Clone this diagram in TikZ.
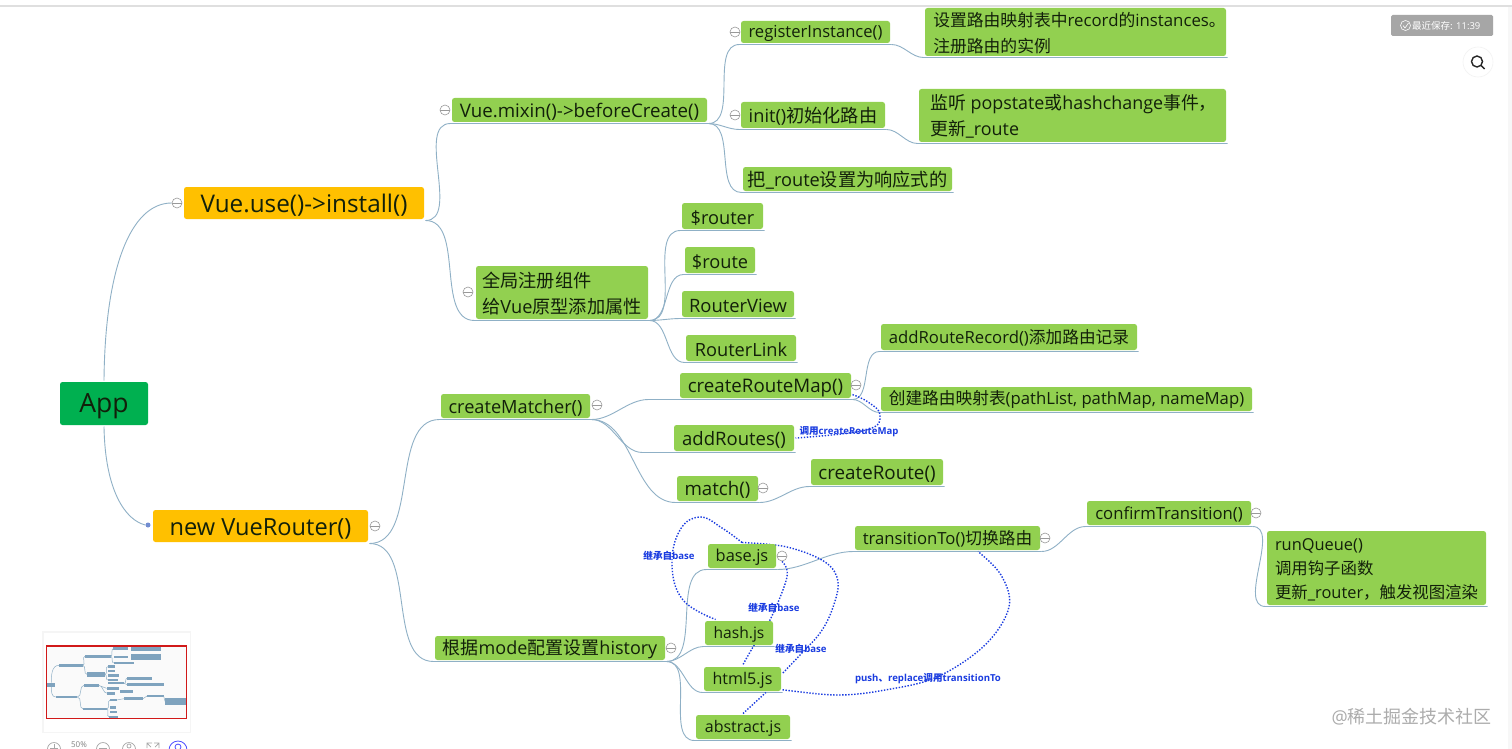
\documentclass[tikz,border=0pt]{standalone}
\usepackage{fontspec}
\setmainfont{Open Sans}
\newfontfamily\cjk{Noto Sans CJK SC}
\usetikzlibrary{backgrounds,calc}
\definecolor{gr}{HTML}{92D050}
\definecolor{ap}{HTML}{00B050}
\definecolor{og}{HTML}{FFC000}
\definecolor{brc}{HTML}{8FB0C6}
\definecolor{dotb}{HTML}{1A3CE0}
\definecolor{mbar}{HTML}{7FA3BE}
\definecolor{txt}{HTML}{12200A}
\tikzset{
  x=1pt,y=-1pt,
  gbox/.style={fill=gr,rounded corners=2.5pt,inner sep=0pt,outer sep=1.5pt,text=txt,align=left,font=\fontsize{18.2}{26.5}\selectfont},
  fs/.style={font=\fontsize{#1}{26.5}\selectfont},
  obox/.style={gbox,fill=og},
  abox/.style={gbox,fill=ap},
  branch/.style={draw=brc,line width=.9pt},
  ficon/.style={circle,draw=gray!80,fill=white,line width=.6pt,minimum size=10pt,inner sep=0pt,
    path picture={\draw[gray!80,line width=.6pt] (path picture bounding box.west) -- (path picture bounding box.east);}},
  link/.style={draw=dotb,line width=1.4pt,dash pattern=on 1.4pt off 1.6pt},
  linklab/.style={text=dotb,inner sep=0pt,font=\fontsize{9.6}{11}\selectfont\bfseries},
  mb/.style={fill=mbar,draw=none},
  tool/.style={draw=gray!70,line width=.7pt,fill=white},
}
\newcommand{\gn}[7][gbox]{\node[gbox,#1,minimum width={(#5-#3)*1pt},minimum height={(#6-#4)*1pt}] (#2) at ({(#3+#5)/2},{(#4+#6)/2}) {\rule{0pt}{.95em}#7};}
\newcommand{\ic}[3]{\node[ficon] (#1) at (#2,#3) {};}
\newcommand{\br}[3][0]{\draw[branch] (#2.south east) to[out=0,in=180,looseness=.9] ([xshift=#1 pt]#3.south west) -- (#3.south east);}
\newcommand{\mr}[4]{\fill[mb] (#1,#2) rectangle (#3,#4);}
\begin{document}
\begin{tikzpicture}
\useasboundingbox (0,0) rectangle (1512,749);
% nodes
\gn[abox,fs=26.5]{app}{60}{382}{148}{425}{App}
\gn[obox,fs=24.3]{use}{184}{187}{424}{219}{Vue.use()->install()}
\gn[obox,fs=23.6]{nvr}{153}{510}{368}{542}{new VueRouter()}
\gn[fs=18.7]{mix}{452}{98}{707}{122}{Vue.mixin()->beforeCreate()}
\gn{glob}{476}{266}{648}{319}{{\cjk 全局注册组件}\\{\cjk 给}Vue{\cjk 原型添加属性}}
\gn{cm}{441}{394}{590}{418}{createMatcher()}
\gn[fs=18]{hist}{435}{636}{665}{660}{{\cjk 根据}mode{\cjk 配置设置}history}
\gn[fs=16.6]{reg}{741}{21}{890}{43}{registerInstance()}
\gn{init}{741}{102}{885}{128}{init(){\cjk 初始化路由}}
\gn{rsp}{743}{167}{952}{191}{{\cjk 把}\_route{\cjk 设置为响应式的}}
\gn[fs=16.8]{regt}{925}{8}{1226}{56}{\hspace*{8pt}{\cjk 设置路由映射表中}record{\cjk 的}instances{\cjk 。}\\\hspace*{8pt}{\cjk 注册路由的实例}}
\gn[fs=17.9]{lis}{919}{89}{1226}{142}{\hspace*{8pt}{\cjk 监听} popstate{\cjk 或}hashchange{\cjk 事件，}\hspace*{6pt}\\\hspace*{8pt}{\cjk 更新}\_route}
\gn{rtr}{682}{203}{763}{229}{\$router}
\gn{rte}{685}{247}{755}{273}{\$route}
\gn[fs=18.4]{rv}{682}{291}{794}{317}{RouterView}
\gn{rl}{686}{335}{796}{361}{RouterLink}
\gn[fs=18.7]{crm}{680}{373}{851}{398}{createRouteMap()}
\gn[fs=18.5]{adr}{674}{425}{794}{451}{addRoutes()}
\gn[fs=18.7]{mat}{677}{476}{758}{501}{match()}
\gn[fs=16.7]{arr}{881}{324}{1137}{350}{addRouteRecord(){\cjk 添加路由记录}}
\gn[fs=16.7]{cmap}{881}{387}{1252}{411}{{\cjk 创建路由映射表}(pathList, pathMap, nameMap)}
\gn[fs=18.8]{crt}{811}{459}{943}{485}{createRoute()}
\gn[fs=16.4]{base}{708}{544}{776}{568}{base.js}
\gn[fs=15.6]{hash}{705}{621}{773}{645}{hash.js}
\gn[fs=16.1]{html}{704}{667}{781}{691}{html5.js}
\gn[fs=16]{abs}{696}{715}{790}{739}{abstract.js}
\gn[fs=16.7]{trans}{855}{526}{1040}{550}{transitionTo(){\cjk 切换路由}}
\gn[fs=16.7]{conf}{1087}{501}{1251}{525}{confirmTransition()}
\gn[font=\fontsize{16.4}{24}\selectfont]{runq}{1267}{531}{1486}{605}{runQueue()\\{\cjk 调用钩子函数}\\{\cjk 更新}\_router{\cjk ，触发视图渲染}}
% collapse icons
\ic{i1}{177}{203}\ic{i2}{375}{526}\ic{i3}{445}{110}\ic{i4}{468}{292}\ic{i5}{597}{405}
\ic{i6}{735}{32}\ic{i7}{735}{115}\ic{i8}{763}{488}\ic{i9}{782}{556}\ic{i10}{856}{385}
\ic{i11}{671}{648}\ic{i12}{1045}{538}\ic{i13}{1256}{513}
\node[circle,fill=brc!80!blue,inner sep=0pt,minimum size=5pt] (dot1) at (148,525) {};
% link labels
\node[linklab] (l1) at (669,556) {{\cjk 继承自}base};
\node[linklab] (l2) at (774,608) {{\cjk 继承自}base};
\node[linklab] (l3) at (801,649) {{\cjk 继承自}base};
\node[linklab] (l4) at (928,679) {push{\cjk 、}replace{\cjk 调用}transitionTo};
\node[linklab] (l5) at (849,432) {{\cjk 调用}createRouteMap};
\begin{scope}[on background layer]
\fill[white] (0,0) rectangle (1512,749);
\fill[gray!25] (0,5.5) rectangle (1512,7);
\fill[gray!6] (1508,7) rectangle (1512,749);
% branches
\draw[branch] (app.north) .. controls (105,270) and (130,203) .. (i1.west);
\draw[branch] (app.south) .. controls (105,490) and (125,520) .. (dot1.west);
\br{use}{mix}\br{use}{glob}
\br{nvr}{cm}\br{nvr}{hist}
\br{mix}{reg}\br{mix}{init}\br{mix}{rsp}
\br{reg}{regt}\br{init}{lis}
\br{glob}{rtr}\br{glob}{rte}\br{glob}{rv}\br{glob}{rl}
\br[-30]{cm}{crm}\br[-30]{cm}{adr}\br{cm}{mat}
\br{crm}{arr}\br{crm}{cmap}\br{mat}{crt}
\br{hist}{base}\br{hist}{hash}\br{hist}{html}\br{hist}{abs}
\br{base}{trans}\br{trans}{conf}\br{conf}{runq}
% dotted links
\draw[link] plot[smooth,tension=.7] coordinates {(crm.-6) (868,402) (880,415) (866,430) (adr.east)};
\draw[link] plot[smooth,tension=.7] coordinates {(base.north) (722,528) (700,517) (680,530) (672,565) (683,600) (hash.150)};
\draw[link] plot[smooth,tension=.6] coordinates {(i9.south) (787,577) (770,620) (753,647) (html.north)};
\draw[link] plot[smooth,tension=.6] coordinates {(base.north) (787,547) (825,562) (838,582) (832,610) (820,633) (800,655) (html.8)};
\draw[link] plot[smooth,tension=.6] coordinates {(html.-15) (837,695) (885,690) (937,677) (985,645) (1009,607) (1001,575) (trans.south -| 978,0)};
\draw[link] (abs.north) -- (html.-30);
\end{scope}
% minimap
\fill[gray!8] (42,631) rectangle (191,733);
\fill[white] (43.5,632.5) rectangle (189.5,731.5);
\begin{scope}[shift={(0,620)},x=.3333pt,y=-.3333pt]
\fill[gray!4] (139,78) rectangle (560,295);
\foreach \a/\b/\c/\d in {142/188/166/201,177/131/248/140,167/227/232/235,255/105/332/113,261/155/315/172,252/192/296/200,250/263/320/271,340/82/385/90,393/80/484/94,341/107/384/114,392/102/484/119,341/125/403/133,323/136/346/144,323/149/345/157,323/163/357/170,323/176/355/184,323/186/373/193,381/172/457/179,381/190/491/198,320/202/357/209,322/217/345/224,361/211/400/219,331/236/350/243,373/232/429/239,441/224/491/231,495/233/558/255,330/259/349/266,330/273/352/280,327/287/355/294}{\mr{\a}{\b}{\c}{\d}}
\draw[brc,line width=.5pt] (154,188) to[out=90,in=180] (177,136) (154,201) to[out=-90,in=180] (167,231)
 (248,136) to[out=0,in=180] (255,109) (248,136) to[out=0,in=180] (261,163)
 (232,231) to[out=0,in=180] (252,196) (232,231) to[out=0,in=180] (250,267)
 (332,109) to[out=0,in=180] (340,86) (332,109) to[out=0,in=180] (341,129)
 (315,163) to[out=0,in=180] (323,140) (315,163) to[out=0,in=180] (323,180)
 (296,196) to[out=0,in=180] (320,205) (296,196) to[out=0,in=180] (322,220)
 (373,190) to[out=0,in=180] (381,175) (373,190) to[out=0,in=180] (381,194)
 (320,267) to[out=0,in=180] (331,240) (320,267) to[out=0,in=180] (327,290)
 (350,240) -- (373,236) (429,236) -- (441,228) (491,228) -- (495,244);
\draw[red!80!black!90!white,line width=1.6pt] (139,78) rectangle (560,295);
\end{scope}
% toolbar
\draw[tool] (54,749) circle (6.5);
\draw[gray!70,line width=.7pt] (50,748) -- (58,748) (54,744) -- (54,749);
\node[text=gray,font=\fontsize{8}{9}\selectfont,inner sep=0pt] (zoomtxt) at (79,744.5) {50\%};
\draw[tool] (103,749) circle (6.5);
\draw[gray!70,line width=.7pt] (99,748) -- (107,748);
\draw[tool] (129,749) circle (6.5);
\draw[gray!70,line width=.7pt] (129,746) circle (2);
\draw[gray!70,line width=.7pt] (147,748) -- (147,743) -- (152,743) (159,748) -- (159,743) -- (154,743) (147,743) -- (151,747) (159,743) -- (155,747);
\draw[blue!70,line width=.8pt,fill=white] (178,750) circle (9);
\draw[blue!70,line width=.8pt] (178,747) circle (3);
% save badge
\fill[gray!70!white,rounded corners=1.5pt] (1391,15) rectangle (1493,36);
\draw[white,line width=.6pt] (1405.5,25.5) circle (5);
\draw[white,line width=.6pt] (1403,25.5) -- (1405,28) -- (1408.5,23);
\node[text=white,anchor=west,inner sep=0pt,font=\fontsize{9.5}{11}\selectfont] (save) at (1412,26) {{\cjk 最近保存:} 11:39};
% search
\draw[gray!10,fill=white,line width=.6pt] (1478,62) circle (15);
\draw[black!85,line width=1.4pt] (1477,61.5) circle (5.5);
\draw[black!85,line width=1.4pt] (1481,65.5) -- (1484.5,69);
% watermark
\node[text=gray!65,anchor=east,inner sep=0pt,font=\fontsize{18}{20}\selectfont] (wm) at (1492,717) {@{\cjk 稀土掘金技术社区}};
\end{tikzpicture}
\end{document}
